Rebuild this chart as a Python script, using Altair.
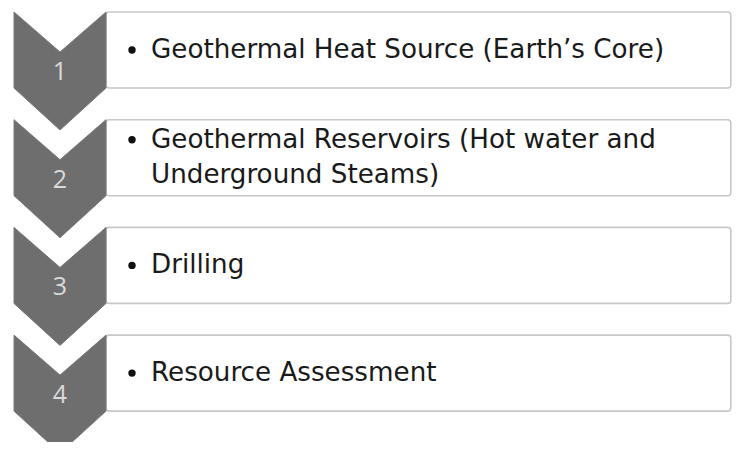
import altair as alt
import pandas as pd

numbers = ["1", "2", "3", "4"]
line1 = ["Geothermal Heat Source (Earth\u2019s Core)",
         "Geothermal Reservoirs (Hot water and",
         "Drilling",
         "Resource Assessment"]
line2 = ["", "Underground Steams)", "", ""]

TOP0 = 12.0
STEP = 107.7
XL, XM, XR = 14.0, 60.0, 106.0
NOTCH, SIDE, TIP = 40.0, 76.0, 118.0
BOX_R = 730.8
FONT = "DejaVu Sans"
FS = 26.2

chev_rows, box_rows, num_rows, txt_rows, bul_rows = [], [], [], [], []
for i, n in enumerate(numbers):
    t = TOP0 + i * STEP
    pts = [(XL, t), (XM, t + NOTCH), (XR, t), (XR, t + SIDE), (XM, t + TIP), (XL, t + SIDE), (XL, t)]
    for k, (px, py) in enumerate(pts):
        chev_rows.append({"id": n, "o": k, "x": px, "y": py})
    box_rows.append({"id": n, "x": XR, "x2": BOX_R, "y": t, "y2": t + SIDE})
    num_rows.append({"id": n, "x": XM, "y": t + 68, "label": n})
    if line2[i]:
        txt_rows.append({"x": 151, "y": t + 28, "label": line1[i]})
        txt_rows.append({"x": 151, "y": t + 63, "label": line2[i]})
        bul_rows.append({"x": 132, "y": t + 20})
    else:
        txt_rows.append({"x": 151, "y": t + 46, "label": line1[i]})
        bul_rows.append({"x": 132, "y": t + 38})

xs = alt.Scale(domain=[8, 732], nice=False, zero=False)
ys = alt.Scale(domain=[442, 8], nice=False, zero=False)

def X(f="x"):
    return alt.X(f"{f}:Q", scale=xs, axis=None)

def Y(f="y"):
    return alt.Y(f"{f}:Q", scale=ys, axis=None)

boxes = alt.Chart(pd.DataFrame(box_rows)).mark_rect(
    fill="white", stroke="#c8c8c8", strokeWidth=1.6, cornerRadius=3
).encode(x=X(), x2="x2:Q", y=Y(), y2="y2:Q")

chev = alt.Chart(pd.DataFrame(chev_rows)).mark_line(
    fill="#6e6e6e", stroke="#7a7a7a", strokeWidth=1, interpolate="linear"
).encode(x=X(), y=Y(), detail="id:N", order="o:Q")

nums = alt.Chart(pd.DataFrame(num_rows)).mark_text(
    font="Open Sans", fontSize=25, color="#dadada", align="center", baseline="alphabetic"
).encode(x=X(), y=Y(), text="label:N")

bullets = alt.Chart(pd.DataFrame(bul_rows)).mark_circle(
    size=55, color="#111111", opacity=1
).encode(x=X(), y=Y())

texts = alt.Chart(pd.DataFrame(txt_rows)).mark_text(
    font=FONT, fontSize=FS, color="#1a1a1a", align="left", baseline="alphabetic"
).encode(x=X(), y=Y(), text="label:N")

chart = alt.layer(boxes, chev, nums, bullets, texts).properties(
    width=724, height=434, padding=0, autosize=alt.AutoSizeParams(type="none"),
    background="white"
).configure_view(stroke=None)

chart.save("out.html", embed_options={"renderer": "svg", "actions": False})
